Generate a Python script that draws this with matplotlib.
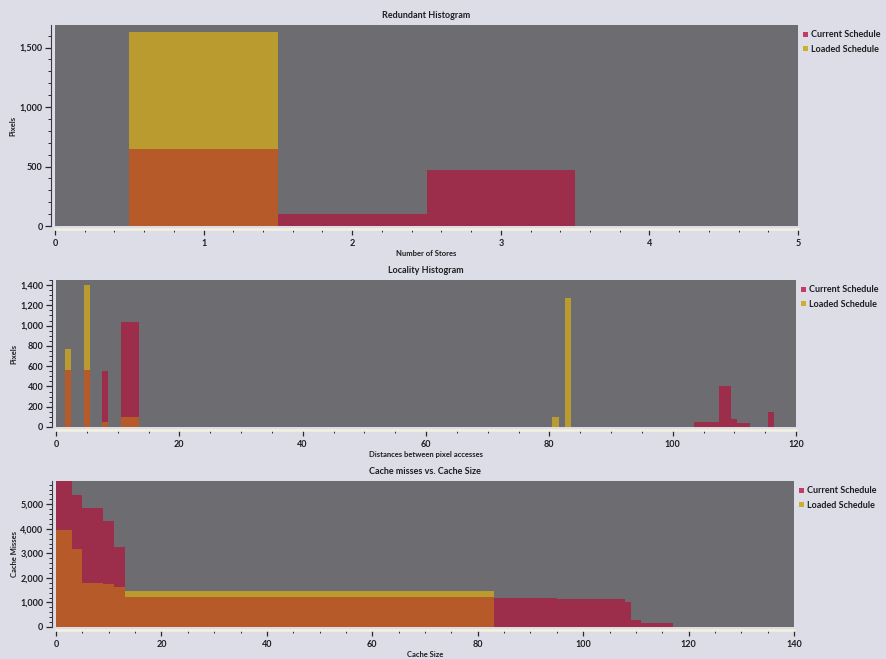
import numpy as np
import matplotlib
matplotlib.use("Agg")
import matplotlib.pyplot as plt
from matplotlib.ticker import FuncFormatter, MultipleLocator
from matplotlib.patches import Patch

plt.rcParams['font.family'] = ['Lato', 'DejaVu Sans']

# ---------------- data ----------------
# Redundant histogram
stores = [1, 2, 3]
red_current = [650, 105, 470]
red_loaded = [1630, 0, 0]

# Locality histogram
loc_dist = [2, 5, 8, 11, 12, 13, 81, 83, 104, 105, 106, 107, 108, 109, 110, 111, 112, 116]
loc_current = [560, 560, 550, 1040, 1040, 1040, 0, 0, 50, 50, 50, 50, 400, 400, 75, 40, 40, 150]
loc_loaded = [770, 1400, 50, 100, 100, 100, 100, 1270, 0, 0, 0, 0, 0, 0, 0, 0, 0, 0]

# Cache misses vs cache size (step intervals)
cache_edges = [0, 3, 5, 9, 11, 13, 83, 95, 108, 109, 111, 117]
cache_current = [5950, 5370, 4870, 4310, 3260, 1230, 1200, 1140, 1030, 290, 170]
cache_loaded = [3950, 3180, 1800, 1740, 1620, 1450, 0, 0, 0, 0, 0]

# ---------------- style ----------------
FIG_BG = '#dcdde7'
AX_BG = '#6c6c71'
RED = '#9d2e4b'
YEL = '#b99b2f'
ORA = '#b65a2a'
LEG_RED = '#c23d63'
LEG_YEL = '#cfae2e'
TXT = '#1e1e22'

fig = plt.figure(figsize=(8.86, 6.59), dpi=100, facecolor=FIG_BG)
W, H = 886, 659

def add_ax(l, r, t, b):
    return fig.add_axes([l / W, 1 - b / H, (r - l) / W, (b - t) / H])

ax1 = add_ax(55, 798, 25, 226)
ax2 = add_ax(56, 796, 280, 427)
ax3 = add_ax(56, 794, 481, 627)

comma = FuncFormatter(lambda v, p: f"{int(v):,}")

def style(ax, title, xlabel, ylabel, xlim, ylim, xmaj, xmin, ymaj, ymin):
    ax.set_facecolor(AX_BG)
    ax.set_xlim(*xlim)
    ax.set_ylim(*ylim)
    for s in ['top', 'right']:
        ax.spines[s].set_visible(False)
    ax.spines['left'].set_color('#3a3a3e')
    ax.spines['left'].set_linewidth(0.8)
    ax.spines['left'].set_position(('outward', 3))
    ax.spines['bottom'].set_color('#f4f1de')
    ax.spines['bottom'].set_linewidth(1.8)
    ax.spines['bottom'].set_position(('outward', 2))
    ax.xaxis.set_major_locator(MultipleLocator(xmaj))
    ax.xaxis.set_minor_locator(MultipleLocator(xmin))
    ax.yaxis.set_major_locator(MultipleLocator(ymaj))
    ax.yaxis.set_minor_locator(MultipleLocator(ymin))
    ax.yaxis.set_major_formatter(comma)
    ax.xaxis.set_major_formatter(comma)
    ax.tick_params(axis='both', which='major', direction='out', length=4, width=0.9,
                   color='#2a2a2e', labelsize=6.5, labelcolor=TXT)
    ax.tick_params(axis='x', which='major', pad=3.5)
    ax.tick_params(axis='y', which='major', pad=2)
    ax.tick_params(axis='both', which='minor', direction='out', length=2, width=0.7,
                   color='#2a2a2e')
    for lab in ax.get_xticklabels() + ax.get_yticklabels():
        lab.set_fontweight('bold')
    ax.set_title(title, fontsize=6.5, fontweight='bold', color=TXT, pad=5)
    ax.set_xlabel(xlabel, fontsize=5.5, fontweight='bold', color=TXT, labelpad=1)
    ax.set_ylabel(ylabel, fontsize=5.5, fontweight='bold', color=TXT, labelpad=2)
    handles = [Patch(facecolor=LEG_RED, edgecolor='none', label='Current Schedule'),
               Patch(facecolor=LEG_YEL, edgecolor='none', label='Loaded Schedule')]
    leg = ax.legend(handles=handles, loc='upper left', bbox_to_anchor=(1.0, 1.0),
                    frameon=False, fontsize=6.5, handlelength=0.5, handleheight=0.5,
                    handletextpad=0.35, labelspacing=0.6, borderaxespad=0.2)
    for t in leg.get_texts():
        t.set_fontweight('bold')
        t.set_color(TXT)

def overlay_bars(ax, x, cur, lod):
    cur = np.asarray(cur, float)
    lod = np.asarray(lod, float)
    ax.bar(x, cur, width=1.0, color=RED, linewidth=0)
    ax.bar(x, lod, width=1.0, color=YEL, linewidth=0)
    ax.bar(x, np.minimum(cur, lod), width=1.0, color=ORA, linewidth=0)

overlay_bars(ax1, stores, red_current, red_loaded)
style(ax1, 'Redundant Histogram', 'Number of Stores', 'Pixels',
      (0, 5), (0, 1690), 1, 0.2, 500, 100)

overlay_bars(ax2, loc_dist, loc_current, loc_loaded)
style(ax2, 'Locality Histogram', 'Distances between pixel accesses', 'Pixels',
      (0, 120), (0, 1450), 20, 5, 200, 50)

cc = np.asarray(cache_current, float)
cl = np.asarray(cache_loaded, float)
ax3.stairs(cc, cache_edges, fill=True, color=RED, linewidth=0)
ax3.stairs(cl, cache_edges, fill=True, color=YEL, linewidth=0)
ax3.stairs(np.minimum(cc, cl), cache_edges, fill=True, color=ORA, linewidth=0)
style(ax3, 'Cache misses vs. Cache Size', 'Cache Size', 'Cache Misses',
      (0, 140), (0, 5950), 20, 5, 1000, 200)

fig.savefig('out.png', dpi=100, facecolor=FIG_BG)
